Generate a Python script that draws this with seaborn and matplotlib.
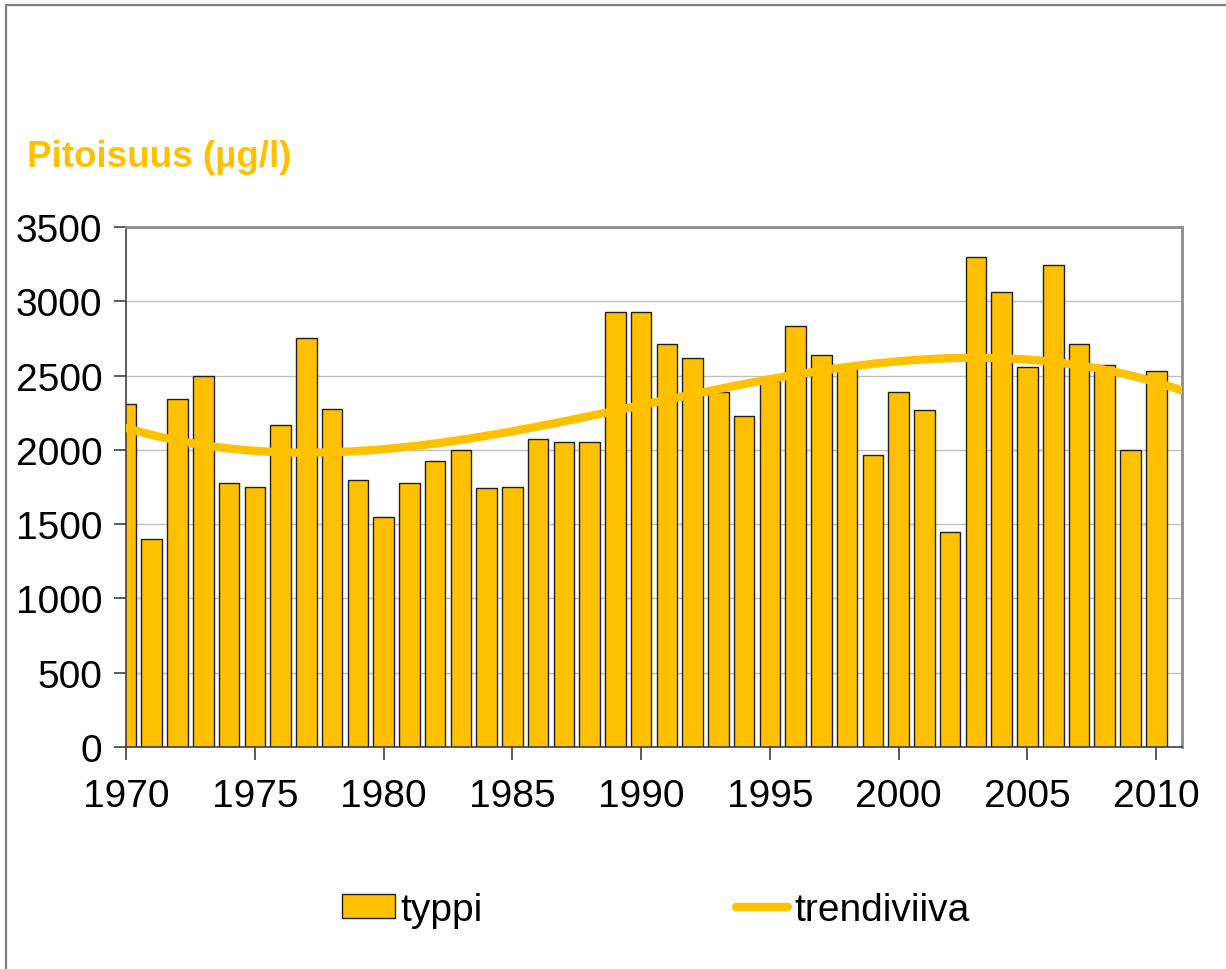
import numpy as np
import pandas as pd
import matplotlib
matplotlib.use("Agg")
import matplotlib.pyplot as plt
import seaborn as sns
from matplotlib.patches import Patch
from matplotlib.lines import Line2D

# ------------------------------------------------------------
# DATA
# ------------------------------------------------------------
years = list(range(1970, 2011))
typpi = [2310, 1400, 2340, 2500, 1775, 1750, 2170, 2750, 2275, 1800,
         1550, 1775, 1925, 2000, 1740, 1750, 2075, 2050, 2050, 2925,
         2925, 2710, 2620, 2390, 2230, 2460, 2835, 2635, 2550, 1965,
         2390, 2265, 1445, 3295, 3065, 2560, 3245, 2710, 2570, 2000,
         2530]
y_ticks = [0, 500, 1000, 1500, 2000, 2500, 3000, 3500]
x_ticks = [1970, 1975, 1980, 1985, 1990, 1995, 2000, 2005, 2010]

df = pd.DataFrame({"year": years, "typpi": typpi})

ORANGE = "#FFC000"

sns.set_style("white")
plt.rcParams["font.family"] = ["Liberation Sans", "DejaVu Sans"]
plt.rcParams["text.color"] = "black"

fig = plt.figure(figsize=(12.26, 9.70), dpi=100)
ax = fig.add_axes([0.1028, 0.2289, 0.8613, 0.5361])

# bars
sns.barplot(data=df, x="year", y="typpi", native_scale=True, color=ORANGE,
            saturation=1, edgecolor="#202020", linewidth=1.0, ax=ax,
            errorbar=None, zorder=2)

ax.set_xlim(1970, 2011)
ax.set_ylim(0, 3500)

# trend line (3rd order polynomial fit, like the spreadsheet trendline)
sns.regplot(data=df, x="year", y="typpi", order=3, ci=None, truncate=False,
            scatter=False, ax=ax,
            line_kws={"color": ORANGE, "linewidth": 6, "zorder": 3})

ax.set_xlim(1970, 2011)
ax.set_ylim(0, 3500)
ax.set_xticks(x_ticks)
ax.set_xticklabels([str(t) for t in x_ticks])
ax.set_yticks(y_ticks)
ax.set_yticklabels([str(t) for t in y_ticks])
ax.set_xlabel("")
ax.set_ylabel("")

ax.yaxis.grid(True, color="#C0C0C0", linewidth=1)
ax.set_axisbelow(True)
ax.tick_params(axis="both", labelsize=28, direction="out", length=9,
               width=1.2, color="#404040", labelcolor="black",
               bottom=True, left=True)
ax.tick_params(axis="x", pad=13)
ax.tick_params(axis="y", pad=8)

for side in ["left", "bottom"]:
    ax.spines[side].set_color("#404040")
    ax.spines[side].set_linewidth(1.2)
for side in ["top", "right"]:
    ax.spines[side].set_color("#8C8C8C")
    ax.spines[side].set_linewidth(2)
    ax.spines[side].set_visible(True)

# title at upper left
fig.text(0.022, 0.838, "Pitoisuus (µg/l)", fontsize=26.5, fontweight="bold",
         color=ORANGE, ha="left", va="center")

# legend
handles = [Patch(facecolor=ORANGE, edgecolor="#202020", linewidth=1),
           Line2D([0], [0], color=ORANGE, linewidth=6, solid_capstyle="round")]
fig.legend(handles, ["typpi", "trendiviiva"], loc="center",
           bbox_to_anchor=(0.535, 0.061), ncol=2, frameon=False, fontsize=28,
           handlelength=1.35, handleheight=0.55, handletextpad=0.15,
           columnspacing=6.5)

# outer border (only top and left edges are visible in the original)
fig.add_artist(Line2D([0.0053, 0.0053], [0.0, 0.9943], transform=fig.transFigure,
                      color="#808080", linewidth=1.6))
fig.add_artist(Line2D([0.0053, 1.0], [0.9943, 0.9943], transform=fig.transFigure,
                      color="#808080", linewidth=1.6))

fig.savefig("out.png", dpi=100)
